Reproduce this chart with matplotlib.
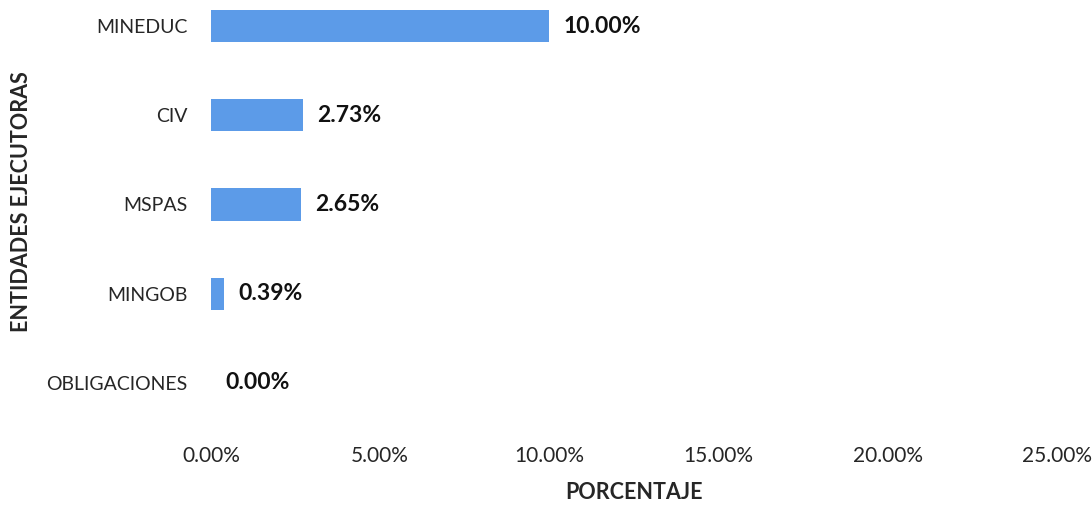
import matplotlib
matplotlib.use("Agg")
import matplotlib.pyplot as plt
from matplotlib.ticker import FuncFormatter

# datos del gráfico
entidades = ["MINEDUC", "CIV", "MSPAS", "MINGOB", "OBLIGACIONES"]
porcentajes = [10.00, 2.73, 2.65, 0.39, 0.00]
ticks_x = [0, 5, 10, 15, 20, 25]

plt.rcParams['font.family'] = ['Lato', 'DejaVu Sans']

fig = plt.figure(figsize=(10.92, 5.05), dpi=100)
ax = fig.add_axes([0.1932, 0.1535, 0.7747, 0.8465])

pos = list(range(len(entidades)))
ax.barh(pos, porcentajes, height=0.36, color="#5c9be8", edgecolor="none")

for p, v in zip(pos, porcentajes):
    ax.annotate(f"{v:.2f}%", xy=(v, p), xytext=(14, 0), textcoords="offset pixels",
                ha="left", va="center", fontsize=16.5, fontweight="bold", color="#111111")

ax.set_xlim(0, 25)
ax.set_ylim(4.5, -0.292)
ax.set_xticks(ticks_x)
ax.xaxis.set_major_formatter(FuncFormatter(lambda x, _: f"{x:.2f}%"))
ax.set_yticks(pos)
ax.set_yticklabels(entidades)

ax.tick_params(axis="x", length=0, pad=13, labelsize=15, colors="#262626")
ax.tick_params(axis="y", length=0, pad=17, labelsize=14, colors="#262626")
for s in ax.spines.values():
    s.set_visible(False)

fig.text(0.5806, 0.024, "PORCENTAJE", ha="center", va="center",
         fontsize=15.5, fontweight="bold", color="#262626")
fig.text(0.020, 0.60, "ENTIDADES EJECUTORAS", rotation=90, ha="center", va="center",
         fontsize=15.5, fontweight="bold", color="#262626")

fig.savefig("out.png", dpi=100)
